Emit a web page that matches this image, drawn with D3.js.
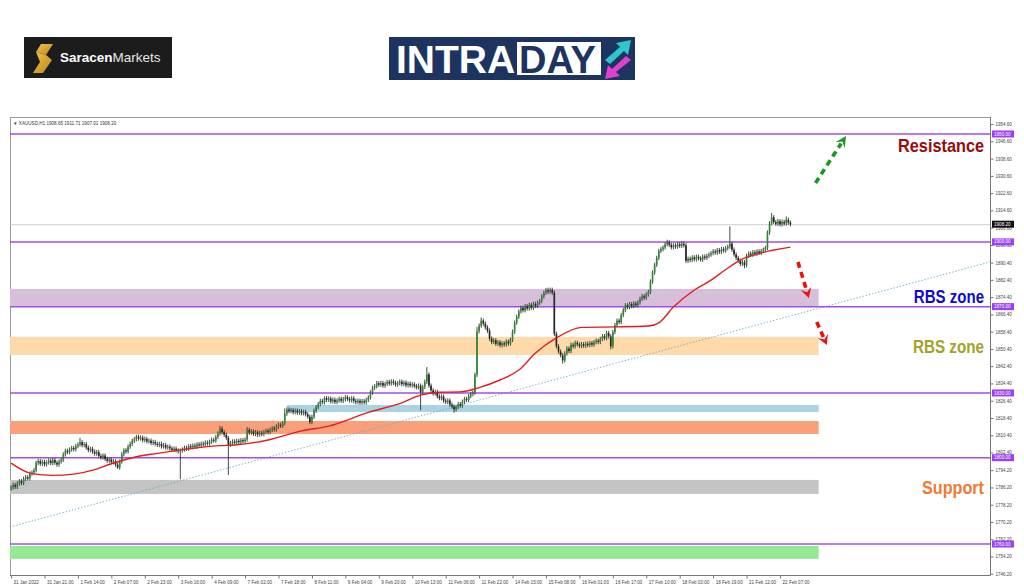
<!DOCTYPE html>
<html><head><meta charset="utf-8">
<script src="https://cdn.jsdelivr.net/npm/d3@7"></script>
<style>body{margin:0;background:#fff}svg{display:block}</style>
</head><body><svg id="c" width="1024" height="587"></svg>
<script>
// ---------------- DATA ----------------
const dateLabels = ["31 Jan 2022","31 Jan 21:00","1 Feb 14:00","2 Feb 07:00","2 Feb 23:00","3 Feb 16:00","4 Feb 09:00","7 Feb 02:00","7 Feb 18:00","8 Feb 11:00","9 Feb 04:00","9 Feb 20:00","10 Feb 13:00","11 Feb 06:00","11 Feb 22:00","14 Feb 15:00","15 Feb 08:00","16 Feb 01:00","16 Feb 17:00","17 Feb 10:00","18 Feb 03:00","18 Feb 19:00","21 Feb 12:00","22 Feb 07:00"];
const barsPerLabel = 16;
const startOpen = 1785.6;
const closes = [
1786.2,1787.4,1786.5,1788.0,1789.1,1788.3,1790.2,1791.0,1790.4,1792.6,1793.1,1794.2,
1797.6,1798.4,1797.2,1798.1,1796.9,1797.8,1798.6,1797.5,1798.9,1797.7,1796.8,1798.2,1799.0,
1801.5,1803.2,1802.6,1803.8,1804.5,1803.9,1805.4,1806.1,
1807.2,1805.8,1806.3,1804.7,1803.5,1804.1,1802.8,1801.9,1802.6,1800.8,1800.1,1801.0,
1799.4,1798.6,1799.2,1797.9,1798.3,1796.8,1795.4,
1798.2,1801.6,1803.4,1802.9,1805.1,1806.4,1807.8,1808.6,1809.7,
1808.9,1809.3,1808.1,1808.7,1807.6,1807.9,1806.8,1807.3,1806.5,1805.9,1806.4,1805.2,1805.8,1804.7,1805.1,1804.3,1803.6,1804.2,1803.4,1802.9,
1803.3,
1803.8,1804.6,1804.1,1805.3,1804.8,1805.6,1805.1,1806.2,1805.7,1806.5,1806.1,1807.0,1806.6,1807.4,1808.3,1807.9,1809.6,1811.2,
1813.5,
1811.8,1810.6,1809.2,
1806.0,
1806.8,1807.5,1806.9,1807.8,1807.2,1808.1,1807.6,1808.4,
1812.9,
1811.6,1812.2,1811.0,1811.8,1810.7,1811.5,1810.9,1811.9,1812.5,1811.8,
1812.9,1813.6,1813.1,1814.4,1815.2,1814.8,1816.0,
1820.4,1822.3,
1821.6,1822.0,1821.1,1821.8,1820.9,1821.5,1820.6,1821.2,1820.1,1819.0,
1816.5,
1818.9,1821.7,1823.4,1824.8,1826.3,1825.7,1827.6,
1826.8,1827.4,1826.1,1826.9,1825.8,1826.5,1827.3,1826.4,1827.1,1828.0,1827.2,1826.6,1827.5,1826.3,1825.7,1826.4,1825.5,1826.2,1825.6,1826.8,1827.9,
1830.2,1832.4,1833.1,1834.5,
1833.8,1834.6,1833.4,1834.2,1835.1,1834.4,1835.3,1834.7,1833.9,1834.5,1835.2,1834.1,1834.8,1833.6,1834.3,1833.5,1834.0,1833.2,1832.6,1833.4,
1830.5,
1832.8,1835.2,1838.6,
1833.4,1831.2,1829.8,1830.5,1828.4,1827.6,1828.3,1826.4,1825.8,1826.5,1824.6,1823.7,1822.4,
1823.5,1824.8,1824.1,1825.9,1827.2,1826.8,1828.5,1829.4,1830.2,
1838.4,1858.6,
1861.2,1863.5,1862.1,1860.4,1858.8,
1855.2,1853.6,1854.4,1852.8,1853.5,1852.1,1853.0,1852.4,1853.8,1852.9,1854.6,
1858.4,1862.6,1865.3,1867.8,
1869.4,1868.3,1870.2,1869.1,1870.8,1869.5,1871.3,1870.4,1871.8,1872.6,
1874.8,1876.4,1877.6,1876.9,1877.8,1876.5,
1857.4,
1851.6,1849.2,1847.5,1845.1,1848.3,1850.6,1849.4,
1852.3,1851.6,1853.2,1852.5,1851.8,1852.6,1851.9,1852.8,1852.2,1853.1,1852.4,1853.5,1854.2,1853.6,1855.0,1856.3,1855.4,1857.8,1856.2,
1851.6,
1858.2,1861.4,1863.5,1862.8,1866.1,1868.4,1870.6,
1869.8,1871.2,1870.3,1871.5,1870.7,1871.9,
1873.6,1874.8,1874.1,1875.6,1876.8,
1881.6,1885.8,1889.4,1892.6,1895.8,
1896.6,1897.4,1898.9,1899.8,1898.6,1897.5,1898.4,1897.8,1898.9,1898.2,1899.1,1898.4,
1891.2,
1892.2,1891.6,1892.8,1891.9,1893.1,1892.4,1891.8,1893.2,1892.6,1893.5,1894.1,
1894.8,1895.6,1895.0,1896.2,1895.4,1896.6,1896.0,1897.1,1897.8,
1899.2,
1896.4,1894.2,1892.6,1891.3,1889.8,1890.6,1889.2,
1893.5,1894.6,1894.0,1895.2,1894.5,1895.6,1894.9,1895.8,1896.4,1897.2,
1904.3,
1908.6,1911.4,1909.2,1908.4,1909.6,1908.1,1909.3,1908.5,1910.2,1908.9,1908.2
];
const wickHighs = [[33,1809.2],[60,1810.6],[100,1814.8],[113,1814.2],[131,1822.8],[150,1828.4],[175,1835.6],[199,1842.0],[223,1860.5],[225,1865.0],[257,1878.8],[314,1901.0],[344,1907.2],[364,1913.4],[371,1911.8]];
const wickLows = [[51,1794.8],[81,1790.0],[104,1792.0],[143,1815.6],[196,1822.0],[212,1820.8],[264,1843.6],[287,1850.2],[351,1887.8]];
const maBars   = [0,10,20,30,40,48,59,70,81,100,107,123,139,152,171,187,196,205,215,224,234,243,251,261,273,289,305,310,317,327,335,341,349,359,373];
const maValues = [1797.5,1792.6,1791.8,1792.4,1794.5,1797.2,1800.2,1802.0,1803.6,1805.6,1805.9,1808.2,1812.4,1814.6,1821.0,1825.4,1829.0,1830.3,1830.5,1832.5,1836.0,1840.6,1848.5,1855.5,1860.4,1860.6,1861.0,1862.5,1869.8,1877.7,1882.3,1886.5,1891.6,1894.9,1897.6];
const levels = [1950,1900,1870,1830,1800,1760];
const currentPrice = 1908.20;
const zoneLow   = [1870.0,1847.6,1821.2,1811.0,1783.2,1753.1];
const zoneHigh  = [1878.2,1856.0,1824.4,1817.0,1789.7,1759.1];
const zoneStart = [0,0,132.5,0,0,0];
const zoneEnd   = 387;
const trendBars = [0,469];
const trendValues = [1767.9,1890.7];
const yTicks = [1954.6,1946.6,1938.6,1930.6,1922.6,1914.6,1906.6,1898.6,1890.4,1882.4,1874.4,1866.4,1858.4,1850.4,1842.4,1834.4,1826.4,1818.4,1810.4,1802.4,1794.2,1786.2,1778.2,1770.2,1762.2,1754.2,1746.2];
const arrowFrom = [[385,1927.3],[376.6,1890.7],[385.6,1862.9]];
const arrowTo   = [[399.6,1949.1],[381.8,1874.0],[390.4,1852.2]];
const zoneTexts = ["Resistance","RBS zone","RBS zone","Support"];
const zoneTextPrices = [1941.5,1871.9,1848.3,1783.2];

// ---------------- STYLES ----------------
const zoneColors = ["#d7bfdb","#fed9a9","#a9d3e3","#f9a07a","#c4c4c4","#93ea93"];
const arrowColors = ["#18981f","#e8120e","#e8120e"];
const textColors = ["#980b0b","#0c0cd0","#a4a22a","#f07a33"];
const textScaleX = [0.905,0.835,0.845,0.9];
const levelColor = "#a24ee6";
const F = "'Liberation Sans', Arial, sans-serif";

// ---------------- SCALES ----------------
const svg = d3.select('#c');
const plotL=10, plotR=990, plotT=117, plotB=575, slots=469;
const xs = d3.scaleLinear().domain([0,slots]).range([plotL,plotR]);
const xc = d3.scaleLinear().domain([-0.5,slots-0.5]).range([plotL,plotR]);
const y = d3.scaleLinear().domain([1760,1950]).range([544,134]);
const step = (plotR-plotL)/slots;

// ---------------- LOGOS ----------------
const lg = svg.append('g');
lg.append('rect').attr('x',24).attr('y',37).attr('width',148).attr('height',41).attr('fill','#1c1c1c');
const defs = svg.append('defs');
const gr = defs.append('linearGradient').attr('id','gold').attr('x1',0).attr('y1',0).attr('x2',1).attr('y2',1);
gr.append('stop').attr('offset','0%').attr('stop-color','#f3c64a');
gr.append('stop').attr('offset','100%').attr('stop-color','#b9861a');
lg.append('path').attr('d','M41,44 L53,44 L46,55 L36,52 Z').attr('fill','url(#gold)');
lg.append('path').attr('d','M36,52 L46,55 L52,60 L43,73 L33,73 L40,62 Z').attr('fill','url(#gold)');
lg.append('text').attr('x',60).attr('y',62).attr('font-family',F).attr('font-size',13.5).attr('fill','#fff')
  .call(t=>{t.append('tspan').attr('font-weight','bold').text('Saracen');t.append('tspan').attr('fill','#e6e6e6').text('Markets');});

const ig = svg.append('g');
ig.append('rect').attr('x',389).attr('y',37).attr('width',246).attr('height',43).attr('fill','#1d3461');
ig.append('rect').attr('x',517).attr('y',42).attr('width',84).attr('height',33).attr('fill','#fff');
ig.append('text').attr('x',396).attr('y',73).attr('font-family',F).attr('font-weight','bold').attr('font-size',39).attr('fill','#fff').text('INTRA');
ig.append('text').attr('x',519).attr('y',73).attr('font-family',F).attr('font-weight','bold').attr('font-size',38).attr('fill','#1d3461').text('DAY');
ig.append('path').attr('d','M605,60 L620,47 L616,43 L631,40 L628,55 L624,51 L610,64 Z').attr('fill','#2fc6cc');
ig.append('path').attr('d','M631,60 L616,72 L620,76 L605,79 L608,65 L612,69 L626,56 Z').attr('fill','#e13fce');

// ---------------- CHART ----------------
svg.append('rect').attr('x',plotL+0.5).attr('y',plotT+0.5).attr('width',plotR-plotL).attr('height',plotB-plotT)
  .attr('fill','#fff').attr('stroke','#9a9a9a').attr('stroke-width',1);
defs.append('clipPath').attr('id','clip').append('rect').attr('x',plotL).attr('y',plotT).attr('width',plotR-plotL).attr('height',plotB-plotT);
const g = svg.append('g').attr('clip-path','url(#clip)');

svg.append('text').attr('x',13).attr('y',125).attr('font-family',F).attr('font-size',4.6).attr('fill','#333')
  .text('\u25BC XAUUSD,H1  1908.65 1911.71 1907.01 1908.20');

// zones
g.selectAll('rect.zone').data(zoneLow).join('rect').attr('class','zone')
  .attr('x',(d,i)=>xs(zoneStart[i])).attr('width',(d,i)=>xs(zoneEnd)-xs(zoneStart[i]))
  .attr('y',(d,i)=>y(zoneHigh[i])).attr('height',(d,i)=>y(zoneLow[i])-y(zoneHigh[i]))
  .attr('fill',(d,i)=>zoneColors[i]);

// trend line
g.append('line').attr('x1',xs(trendBars[0])).attr('y1',y(trendValues[0])).attr('x2',xs(trendBars[1])).attr('y2',y(trendValues[1]))
  .attr('stroke','#6aa9c9').attr('stroke-width',0.9).attr('stroke-dasharray','1.4,1.8');

// current price line
g.append('line').attr('x1',plotL).attr('x2',plotR).attr('y1',y(currentPrice)+0.5).attr('y2',y(currentPrice)+0.5)
  .attr('stroke','#cfcfcf').attr('stroke-width',1);

// levels
g.selectAll('line.lvl').data(levels).join('line').attr('class','lvl')
  .attr('x1',plotL).attr('x2',plotR).attr('y1',d=>y(d)).attr('y2',d=>y(d))
  .attr('stroke',levelColor).attr('stroke-width',1.5);

// candles
const bars = closes.map((c,i)=>{const o=i===0?startOpen:closes[i-1];return {i,o,c,h:Math.max(o,c)+1.0,l:Math.min(o,c)-1.0};});
wickHighs.forEach(([i,v])=>{bars[i].h=v;});
wickLows.forEach(([i,v])=>{bars[i].l=v;});
const cg = g.append('g');
cg.selectAll('line.w').data(bars).join('line').attr('class','w')
  .attr('x1',d=>xc(d.i)).attr('x2',d=>xc(d.i)).attr('y1',d=>y(d.h)).attr('y2',d=>y(d.l))
  .attr('stroke','#333').attr('stroke-width',0.9);
cg.selectAll('rect.b').data(bars).join('rect').attr('class','b')
  .attr('x',d=>xc(d.i)-step*0.4).attr('width',step*0.8)
  .attr('y',d=>y(Math.max(d.o,d.c))).attr('height',d=>Math.max(0.9,Math.abs(y(d.o)-y(d.c))))
  .attr('fill',d=>d.c>=d.o?'#2f8a34':'#262626');

// MA
const ma = maBars.map((b,i)=>[b,maValues[i]]);
g.append('path').datum(ma).attr('fill','none').attr('stroke','#e01d1d').attr('stroke-width',1.4)
  .attr('d',d3.line().x(d=>xc(d[0])).y(d=>y(d[1])).curve(d3.curveMonotoneX));

// arrows
arrowFrom.forEach((f,i)=>{
  const t = arrowTo[i];
  const x1=xc(f[0]), y1=y(f[1]), x2=xc(t[0]), y2=y(t[1]);
  const ang=Math.atan2(y2-y1,x2-x1), hl=i===0?11:10, hw=5.5;
  const bx=x2-hl*Math.cos(ang), by=y2-hl*Math.sin(ang);
  g.append('line').attr('x1',x1).attr('y1',y1).attr('x2',bx+2*Math.cos(ang)).attr('y2',by+2*Math.sin(ang))
    .attr('stroke',arrowColors[i]).attr('stroke-width',3.6).attr('stroke-dasharray','6,4.5');
  const px=-Math.sin(ang), py=Math.cos(ang);
  const nx=x2-hl*0.6*Math.cos(ang), ny=y2-hl*0.6*Math.sin(ang);
  g.append('path').attr('d',`M${x2},${y2} L${bx+px*hw},${by+py*hw} L${nx},${ny} L${bx-px*hw},${by-py*hw} Z`)
    .attr('fill',arrowColors[i]);
});

// right texts
svg.selectAll('text.zt').data(zoneTexts).join('text').attr('class','zt')
  .attr('transform',(d,i)=>`translate(984,${y(zoneTextPrices[i])}) scale(${textScaleX[i]},1)`)
  .attr('text-anchor','end')
  .attr('font-family',F).attr('font-weight','bold').attr('font-size',18)
  .attr('fill',(d,i)=>textColors[i]).text(d=>d);

// right axis
const ay = svg.append('g').attr('transform',`translate(${plotR+0.5},0)`)
  .call(d3.axisRight(y).tickValues(yTicks).tickSize(3).tickPadding(2).tickFormat(d3.format('.2f')));
ay.select('.domain').attr('stroke','#777').attr('d',`M0,${plotT}V${plotB}`);
ay.selectAll('line').attr('stroke','#777');
ay.selectAll('text').attr('font-family',F).attr('font-size',4.5).attr('fill','#444');

// tags
const tags = svg.append('g');
levels.forEach(v=>{
  tags.append('rect').attr('x',992).attr('y',y(v)-3.5).attr('width',22).attr('height',7).attr('fill','#9c3ff5');
  tags.append('text').attr('x',994).attr('y',y(v)+1.6).attr('font-family',F).attr('font-size',4.6).attr('fill','#fff').text(d3.format('.2f')(v));
});
tags.append('rect').attr('x',992).attr('y',y(currentPrice)-3.5).attr('width',22).attr('height',7).attr('fill','#111');
tags.append('text').attr('x',994).attr('y',y(currentPrice)+1.6).attr('font-family',F).attr('font-size',4.6).attr('fill','#fff').text(d3.format('.2f')(currentPrice));

// bottom axis
const ax = svg.append('g').attr('transform',`translate(0,${plotB+0.5})`)
  .call(d3.axisBottom(xc).tickValues(dateLabels.map((d,k)=>k*barsPerLabel)).tickSize(3).tickPadding(2).tickFormat((d,k)=>dateLabels[k]));
ax.select('.domain').attr('stroke','#777').attr('d',`M${plotL},0H${plotR}`);
ax.selectAll('line').attr('stroke','#777');
ax.selectAll('text').attr('font-family',F).attr('font-size',4.6).attr('fill','#444').attr('text-anchor','start').attr('dx',2);
</script></body></html>
